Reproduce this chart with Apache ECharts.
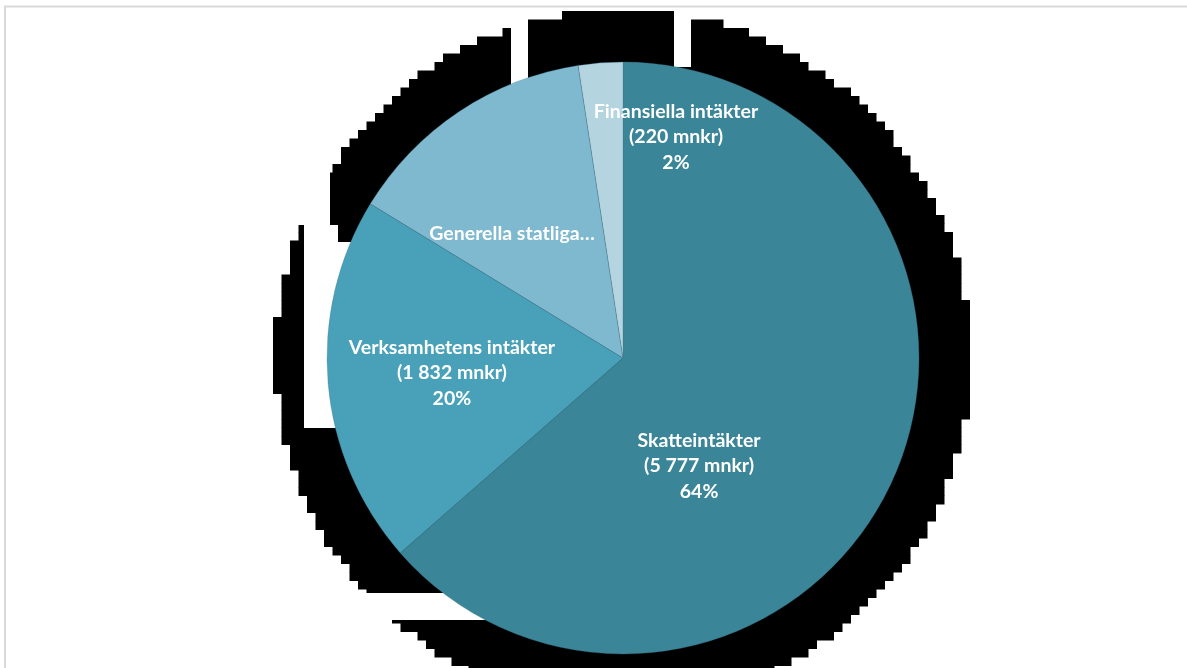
<!DOCTYPE html>
<html>
<head>
<meta charset="utf-8">
<style>
  html, body { margin: 0; padding: 0; background: #ffffff; }
  #chart { width: 1187px; height: 668px; }
</style>
<script src="https://cdn.jsdelivr.net/npm/echarts@6/dist/echarts.min.js"></script>
</head>
<body>
<div id="chart"></div>
<script>
// ---- data ----
const categories = ['Skatteintäkter', 'Verksamhetens intäkter', 'Generella statliga bidrag och utjämning', 'Finansiella intäkter'];
const valuesMnkr = [5777, 1832, 1260, 220];
const shortLabels = ['Skatteintäkter', 'Verksamhetens intäkter', 'Generella statliga…', 'Finansiella intäkter'];
const showValueInLabel = [true, true, false, true];
const unitText = 'mnkr';

// ---- styles / layout ----
const sliceColors = ['#3B8599', '#48A1B9', '#7EB9CF', '#B4D4E0'];
const CX = 623, CY = 358, RADIUS = 296;
// label placement, as fraction of radius from the pie centre
const labelPos = [[0.257, 0.365], [-0.578, 0.051], [-0.375, -0.419], [0.179, -0.747]];

function fmt(n) {
  return String(n).replace(/\B(?=(\d{3})+(?!\d))/g, ' ');
}

// ---- decorative stepped black backdrop (rendering artifact in reference) ----
const graphics = [];
(function () {
  const cell = 8.5, R = 348, x0 = 273, y0 = 11;
  for (let j = 0; j < 80; j++) {
    const yt = y0 + j * cell;
    if (yt > 680) break;
    const yc = yt + cell / 2;
    let minX = null, maxX = null;
    for (let i = 0; i < 84; i++) {
      const xl = x0 + i * cell;
      const xc = xl + cell / 2;
      if ((xc - CX) * (xc - CX) + (yc - CY) * (yc - CY) <= R * R) {
        if (minX === null) minX = xl;
        maxX = xl + cell;
      }
    }
    if (minX !== null) {
      graphics.push({ type: 'rect', z: 1, shape: { x: minX, y: yt, width: maxX - minX, height: cell + 0.5 }, style: { fill: '#000000' } });
    }
  }
  const gaps = [
    [288, 150, 42, 75],
    [304, 225, 34, 17],
    [304, 242, 120, 186],
    [355, 593, 150, 27],
    [511, 8, 17, 102],
    [674, 8, 17, 59]
  ];
  gaps.forEach(g => graphics.push({ type: 'rect', z: 2, shape: { x: g[0], y: g[1], width: g[2], height: g[3] }, style: { fill: '#ffffff' } }));
})();
graphics.push({
  type: 'rect', z: 3,
  shape: { x: 5, y: 6.5, width: 1200, height: 700 },
  style: { fill: 'none', stroke: '#d9d9d9', lineWidth: 2 }
});

const chart = echarts.init(document.getElementById('chart'), null, { renderer: 'canvas' });
chart.setOption({
  animation: false,
  backgroundColor: '#ffffff',
  graphic: { elements: graphics },
  series: [{
    type: 'pie',
    z: 10,
    center: [CX, CY],
    radius: RADIUS,
    startAngle: 90,
    clockwise: true,
    avoidLabelOverlap: false,
    silent: true,
    itemStyle: { borderColor: 'rgba(60,115,135,0.6)', borderWidth: 0.5 },
    label: {
      show: true,
      position: 'inside',
      color: '#ffffff',
      fontFamily: 'Lato',
      fontWeight: 'bold',
      fontSize: 19.5,
      lineHeight: 25.5,
      align: 'center',
      formatter: function (p) {
        const i = p.dataIndex;
        if (!showValueInLabel[i]) return shortLabels[i];
        return shortLabels[i] + '\n(' + fmt(p.value) + ' ' + unitText + ')\n' + Math.round(p.percent) + '%';
      }
    },
    labelLine: { show: false },
    labelLayout: function (params) {
      const f = labelPos[params.dataIndex];
      return { x: CX + f[0] * RADIUS, y: CY + f[1] * RADIUS, align: 'center', verticalAlign: 'middle' };
    },
    data: categories.map((name, i) => ({ name: name, value: valuesMnkr[i], itemStyle: { color: sliceColors[i] } }))
  }]
});
</script>
</body>
</html>
